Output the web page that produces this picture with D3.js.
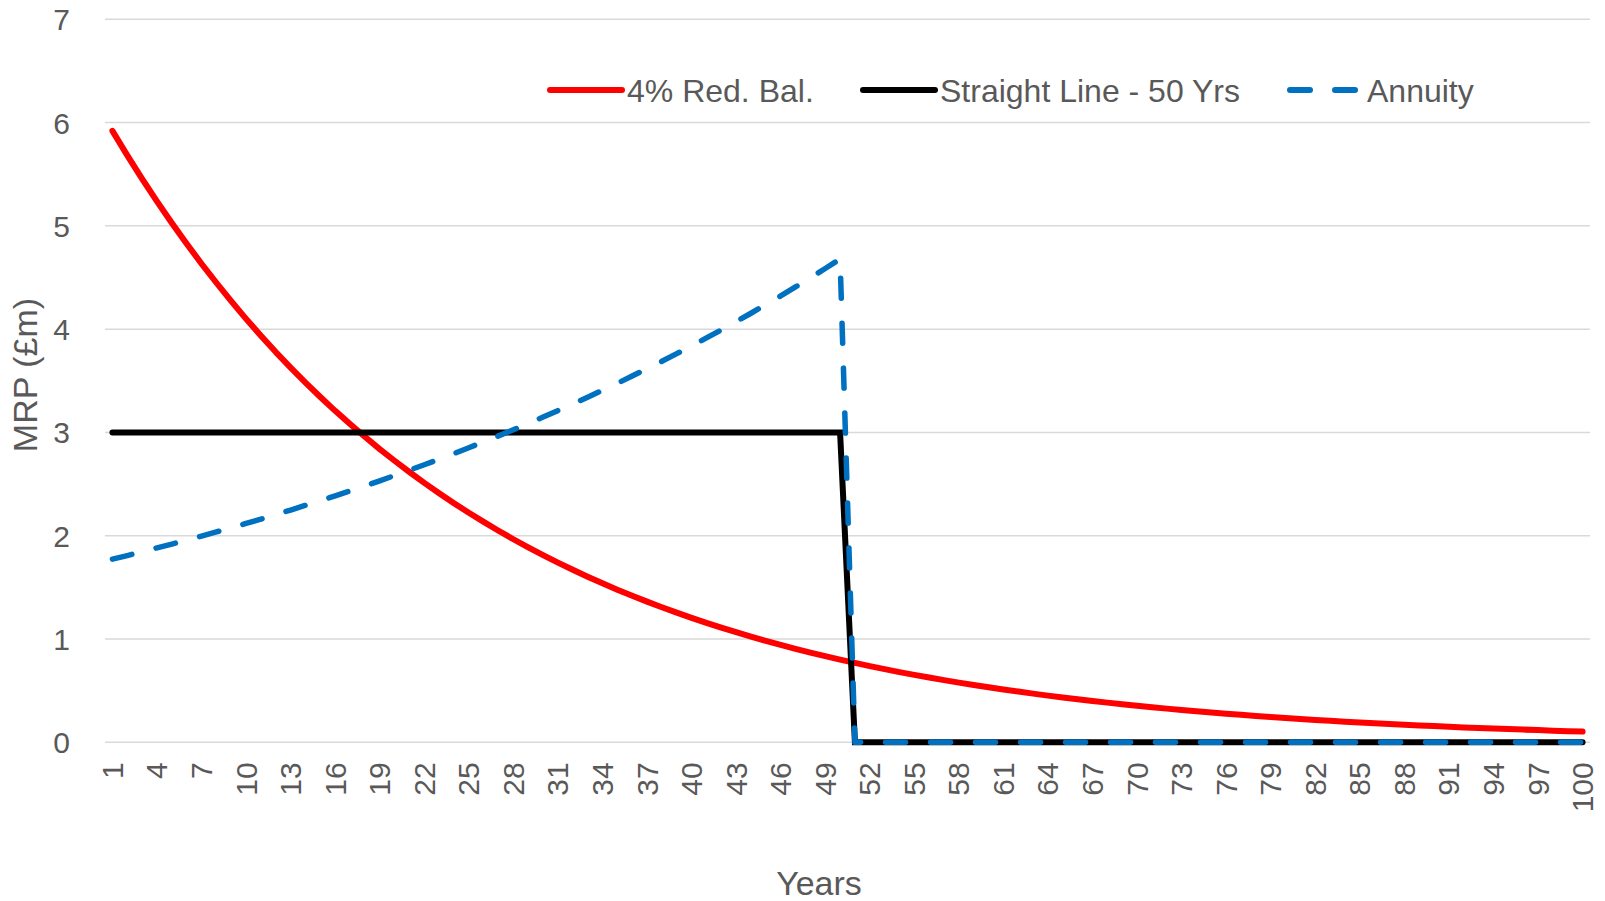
<!DOCTYPE html>
<html>
<head>
<meta charset="utf-8">
<script src="https://cdn.jsdelivr.net/npm/d3@7"></script>
<style>
  html, body { margin: 0; padding: 0; background: #fff; }
  svg { display: block; font-family: "Liberation Sans", Arial, sans-serif; }
</style>
</head>
<body>
<svg id="chart" width="1605" height="901"></svg>
<script>
// ---- data ----
const years = d3.range(1, 101);
const yTicks = [0, 1, 2, 3, 4, 5, 6, 7];
const seriesNames = ["4% Red. Bal.", "Straight Line - 50 Yrs", "Annuity"];

const redBal = [
  5.920, 5.683, 5.456, 5.238, 5.028, 4.827, 4.634, 4.449, 4.271, 4.100,
  3.936, 3.778, 3.627, 3.482, 3.343, 3.209, 3.081, 2.958, 2.839, 2.726,
  2.617, 2.512, 2.412, 2.315, 2.222, 2.134, 2.048, 1.966, 1.888, 1.812,
  1.740, 1.670, 1.603, 1.539, 1.478, 1.419, 1.362, 1.307, 1.255, 1.205,
  1.157, 1.110, 1.066, 1.023, 0.982, 0.943, 0.905, 0.869, 0.834, 0.801,
  0.769, 0.738, 0.709, 0.680, 0.653, 0.627, 0.602, 0.578, 0.555, 0.533,
  0.511, 0.491, 0.471, 0.452, 0.434, 0.417, 0.400, 0.384, 0.369, 0.354,
  0.340, 0.326, 0.313, 0.301, 0.289, 0.277, 0.266, 0.255, 0.245, 0.235,
  0.226, 0.217, 0.208, 0.200, 0.192, 0.184, 0.177, 0.170, 0.163, 0.157,
  0.150, 0.144, 0.139, 0.133, 0.128, 0.123, 0.118, 0.113, 0.108, 0.104
];

const straightLine = [
  3, 3, 3, 3, 3, 3, 3, 3, 3, 3,
  3, 3, 3, 3, 3, 3, 3, 3, 3, 3,
  3, 3, 3, 3, 3, 3, 3, 3, 3, 3,
  3, 3, 3, 3, 3, 3, 3, 3, 3, 3,
  3, 3, 3, 3, 3, 3, 3, 3, 3, 3,
  0, 0, 0, 0, 0, 0, 0, 0, 0, 0,
  0, 0, 0, 0, 0, 0, 0, 0, 0, 0,
  0, 0, 0, 0, 0, 0, 0, 0, 0, 0,
  0, 0, 0, 0, 0, 0, 0, 0, 0, 0,
  0, 0, 0, 0, 0, 0, 0, 0, 0, 0
];

const annuity = [
  1.773, 1.808, 1.845, 1.882, 1.919, 1.958, 1.997, 2.037, 2.077, 2.119,
  2.161, 2.205, 2.249, 2.294, 2.339, 2.386, 2.434, 2.483, 2.532, 2.583,
  2.635, 2.687, 2.741, 2.796, 2.852, 2.909, 2.967, 3.026, 3.087, 3.149,
  3.212, 3.276, 3.341, 3.408, 3.476, 3.546, 3.617, 3.689, 3.763, 3.838,
  3.915, 3.993, 4.073, 4.154, 4.238, 4.322, 4.409, 4.497, 4.587, 4.679,
  0, 0, 0, 0, 0, 0, 0, 0, 0, 0,
  0, 0, 0, 0, 0, 0, 0, 0, 0, 0,
  0, 0, 0, 0, 0, 0, 0, 0, 0, 0,
  0, 0, 0, 0, 0, 0, 0, 0, 0, 0,
  0, 0, 0, 0, 0, 0, 0, 0, 0, 0
];

// ---- layout ----
const svg = d3.select("#chart");
const textColor = "#595959";
const gridColor = "#d9d9d9";

const x = d3.scaleBand().domain(years).range([105, 1590]).padding(0);
const y = d3.scaleLinear().domain([0, 7]).range([742.3, 19.3]);
const cx = d => x(d) + x.bandwidth() / 2;

// gridlines
svg.append("g").selectAll("line").data(yTicks).join("line")
  .attr("x1", 105).attr("x2", 1590)
  .attr("y1", d => y(d)).attr("y2", d => y(d))
  .attr("stroke", gridColor).attr("stroke-width", 1.5);

// y axis labels
const yAxis = d3.axisLeft(y).tickValues(yTicks).tickSize(0).tickPadding(0).tickFormat(d3.format("d"));
const yg = svg.append("g").attr("transform", "translate(70,0)").call(yAxis);
yg.select(".domain").remove();
yg.selectAll("text").attr("font-size", 30).attr("fill", textColor)
  .attr("font-family", "Liberation Sans, Arial, sans-serif")
  .attr("text-anchor", "end").attr("dy", "0.35em");

// x axis labels
const xTickVals = years.filter(d => (d - 1) % 3 === 0);
const xAxis = d3.axisBottom(x).tickValues(xTickVals).tickSize(0).tickPadding(0);
const xg = svg.append("g").attr("transform", "translate(0,742.3)").call(xAxis);
xg.select(".domain").remove();
xg.selectAll("text")
  .attr("font-size", 30).attr("fill", textColor)
  .attr("font-family", "Liberation Sans, Arial, sans-serif")
  .attr("text-anchor", "end")
  .attr("dy", "0.35em")
  .attr("y", 0).attr("x", 0)
  .attr("transform", "translate(0,20) rotate(-90)");

// axis titles
svg.append("text").text("Years")
  .attr("x", 819).attr("y", 895)
  .attr("text-anchor", "middle").attr("font-size", 34).attr("fill", textColor);
svg.append("text").text("MRP (£m)")
  .attr("transform", "translate(37,375) rotate(-90)")
  .attr("text-anchor", "middle").attr("font-size", 34).attr("fill", textColor);

// lines
const line = d3.line().x((d, i) => cx(years[i])).y(d => y(d));

svg.append("path").datum(redBal).attr("d", line)
  .attr("fill", "none").attr("stroke", "#ff0000").attr("stroke-width", 6)
  .attr("stroke-linejoin", "round").attr("stroke-linecap", "round");

svg.append("path").datum(straightLine).attr("d", line)
  .attr("fill", "none").attr("stroke", "#000000").attr("stroke-width", 6)
  .attr("stroke-linejoin", "miter").attr("stroke-linecap", "round");

svg.append("path").datum(annuity).attr("d", line)
  .attr("fill", "none").attr("stroke", "#0070c0").attr("stroke-width", 5.5)
  .attr("stroke-dasharray", "20 25")
  .attr("stroke-linejoin", "round").attr("stroke-linecap", "round");

// legend
const legendItems = [
  { name: seriesNames[0], color: "#ff0000", dash: null, x1: 550, x2: 622, tx: 627 },
  { name: seriesNames[1], color: "#000000", dash: null, x1: 863, x2: 935, tx: 940 },
  { name: seriesNames[2], color: "#0070c0", dash: "20 25", x1: 1290, x2: 1358, tx: 1367 }
];
const lg = svg.append("g");
legendItems.forEach(it => {
  lg.append("line").attr("x1", it.x1).attr("x2", it.x2).attr("y1", 90).attr("y2", 90)
    .attr("stroke", it.color).attr("stroke-width", 6).attr("stroke-linecap", "round")
    .attr("stroke-dasharray", it.dash);
  lg.append("text").text(it.name).attr("x", it.tx).attr("y", 102)
    .attr("font-size", 32).attr("fill", textColor);
});
</script>
</body>
</html>
